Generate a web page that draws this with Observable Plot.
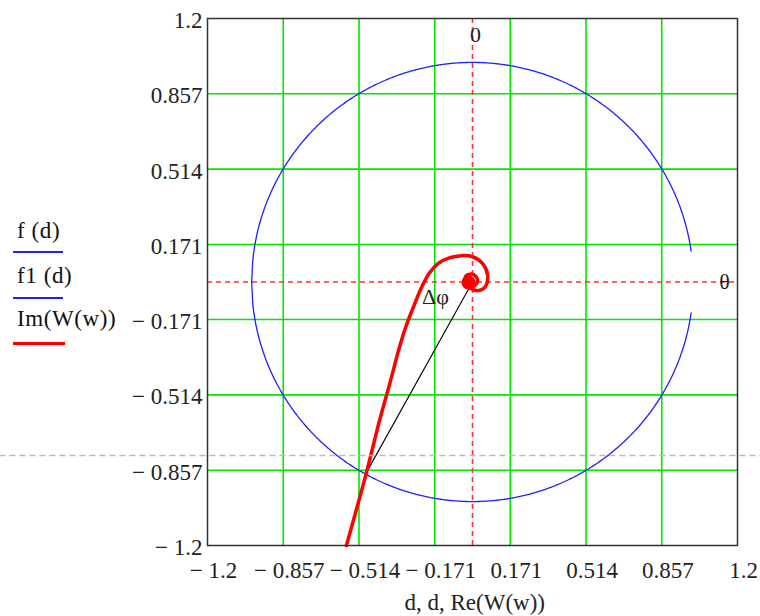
<!DOCTYPE html>
<html>
<head>
<meta charset="utf-8">
<script src="https://cdn.jsdelivr.net/npm/d3@7"></script>
<script src="https://cdn.jsdelivr.net/npm/@observablehq/plot@0.6"></script>
<style>
  html, body { margin: 0; padding: 0; background: #fff; }
  #wrap { position: relative; width: 760px; height: 616px; font-family: "Liberation Serif", "DejaVu Serif", serif; }
  #wrap svg { position: absolute; left: 0; top: 0; overflow: visible; }
  #wrap svg text { font-family: "Liberation Serif", "DejaVu Serif", serif; }
  .leg { position: absolute; left: 17px; color: #111; white-space: pre; line-height: 1; font-family: "Liberation Serif", "DejaVu Serif", serif; letter-spacing: 0.6px; }
  .ul { position: absolute; left: 13px; width: 50px; }
</style>
</head>
<body>
<div id="wrap"></div>
<script>
// ---- data ----
const tickValues = [-1.2, -0.857, -0.514, -0.171, 0.171, 0.514, 0.857, 1.2];
const gridValues = [-0.857, -0.514, -0.171, 0.171, 0.514, 0.857];
const zeroLines = [0];
// circle argument d (f(d) upper, f1(d) lower), plotted for d in [-1, 0.99]
const dValues = d3.range(-1, 0.99 + 1e-9, 0.005);
const fUpper = dValues.map(d => Math.sqrt(Math.max(0, 1 - d * d)));
const fLower = dValues.map(d => -Math.sqrt(Math.max(0, 1 - d * d)));
// Nyquist curve W(w): Re and Im
const reW = [-0.571, -0.480, -0.421, -0.371, -0.335, -0.303, -0.262, -0.231, -0.196, -0.155, -0.105, -0.050, 0.000, 0.045, 0.068, 0.059, 0.027, -0.009, -0.036, -0.027, 0.005, 0.023, 0.005, -0.023, -0.027, -0.009, 0.0];
const imW = [-1.2, -0.867, -0.631, -0.449, -0.312, -0.207, -0.100, -0.025, 0.040, 0.085, 0.110, 0.120, 0.115, 0.085, 0.034, -0.020, -0.039, -0.030, -0.002, 0.030, 0.034, 0.007, -0.020, -0.011, 0.011, 0.020, 0.0];
const blobRe = [-0.018];
const blobIm = [-0.002];
// phase-margin ray from origin to the unit-circle crossing
const rayRe = [0, -0.48];
const rayIm = [0, -0.867];
// annotation labels
const labelText = ["Δφ", "θ", "0"];
const labelRe = [-0.168, 1.141, 0.014];
const labelIm = [-0.07, 0.0, 1.127];
const traceY = [-0.79];

const circleUp = dValues.map((d, i) => ({x: d, y: fUpper[i]}));
const circleDn = dValues.map((d, i) => ({x: d, y: fLower[i]}));
const curve = reW.map((x, i) => ({x, y: imW[i]}));
const ray = rayRe.map((x, i) => ({x, y: rayIm[i]}));
const blob = blobRe.map((x, i) => ({x, y: blobIm[i]}));
const labels = labelText.map((t, i) => ({t, x: labelRe[i], y: labelIm[i]}));
const fmt = v => v < 0 ? "\u2212 " + String(-v) : String(v);

const serif = "Liberation Serif, DejaVu Serif, serif";

const chart = Plot.plot({
  width: 760,
  height: 616,
  marginLeft: 207,
  marginRight: 23,
  marginTop: 18,
  marginBottom: 71,
  x: {domain: [-1.2, 1.2], axis: null},
  y: {domain: [-1.2, 1.2], axis: null},
  style: {fontFamily: serif, background: "#fff", overflow: "visible"},
  marks: [
    Plot.ruleX(gridValues, {stroke: "#00e600", strokeWidth: 1.6}),
    Plot.ruleY(gridValues, {stroke: "#00e600", strokeWidth: 1.6}),
    Plot.ruleX(zeroLines, {stroke: "#ff3030", strokeWidth: 1.6, strokeDasharray: "5,4"}),
    Plot.ruleY(zeroLines, {stroke: "#ff3030", strokeWidth: 1.6, strokeDasharray: "5,4"}),
    Plot.line(circleUp, {x: "x", y: "y", stroke: "#2020ff", strokeWidth: 1.3}),
    Plot.line(circleDn, {x: "x", y: "y", stroke: "#2020ff", strokeWidth: 1.3}),
    Plot.line(ray, {x: "x", y: "y", stroke: "#000", strokeWidth: 1.1}),
    Plot.line(curve, {x: "x", y: "y", stroke: "#ff0000", strokeWidth: 3.5, curve: "catmull-rom"}),
    Plot.dot(blob, {x: "x", y: "y", r: 7, fill: "#ff0000", stroke: "none"}),
    Plot.text(labels, {x: "x", y: "y", text: "t", fontSize: 22, fontFamily: serif, fill: "#222", textAnchor: "middle", lineAnchor: "middle"}),
    Plot.ruleY(traceY, {x1: -2.14, x2: 1.31, stroke: "#bbbbbb", strokeWidth: 1.5, strokeDasharray: "6,4"}),
    Plot.frame({stroke: "#333", strokeWidth: 1.5}),
    Plot.text(tickValues, {x: d => d, y: () => -1.2, text: fmt, dy: 25, dx: 6, fontSize: 23, fontFamily: serif, fill: "#222", textAnchor: "middle", lineAnchor: "middle"}),
    Plot.text(tickValues, {y: d => d, x: () => -1.2, text: fmt, dx: -5, dy: 2, fontSize: 23, fontFamily: serif, fill: "#222", textAnchor: "end", lineAnchor: "middle"}),
    Plot.text(["d, d, Re(W(w))"], {x: () => 0.01, y: () => -1.2, text: d => d, dy: 57, fontSize: 23, fontFamily: serif, fill: "#222", textAnchor: "middle", lineAnchor: "middle"})
  ]
});

const wrap = document.getElementById("wrap");
wrap.appendChild(chart);

const legendItems = [
  {text: "f (d)", top: 219, line: 251, color: "#2020ff", w: 2},
  {text: "f1 (d)", top: 264, line: 297, color: "#2020ff", w: 2},
  {text: "Im(W(w))", top: 307, line: 342, color: "#ff0000", w: 3}
];
for (const it of legendItems) {
  const t = document.createElement("div");
  t.className = "leg";
  t.style.top = it.top + "px";
  t.style.fontSize = "23px";
  t.textContent = it.text;
  wrap.appendChild(t);
  const u = document.createElement("div");
  u.className = "ul";
  u.style.top = it.line + "px";
  u.style.borderTop = it.w + "px solid " + it.color;
  if (it.w === 3) u.style.width = "52px";
  wrap.appendChild(u);
}
</script>
</body>
</html>
